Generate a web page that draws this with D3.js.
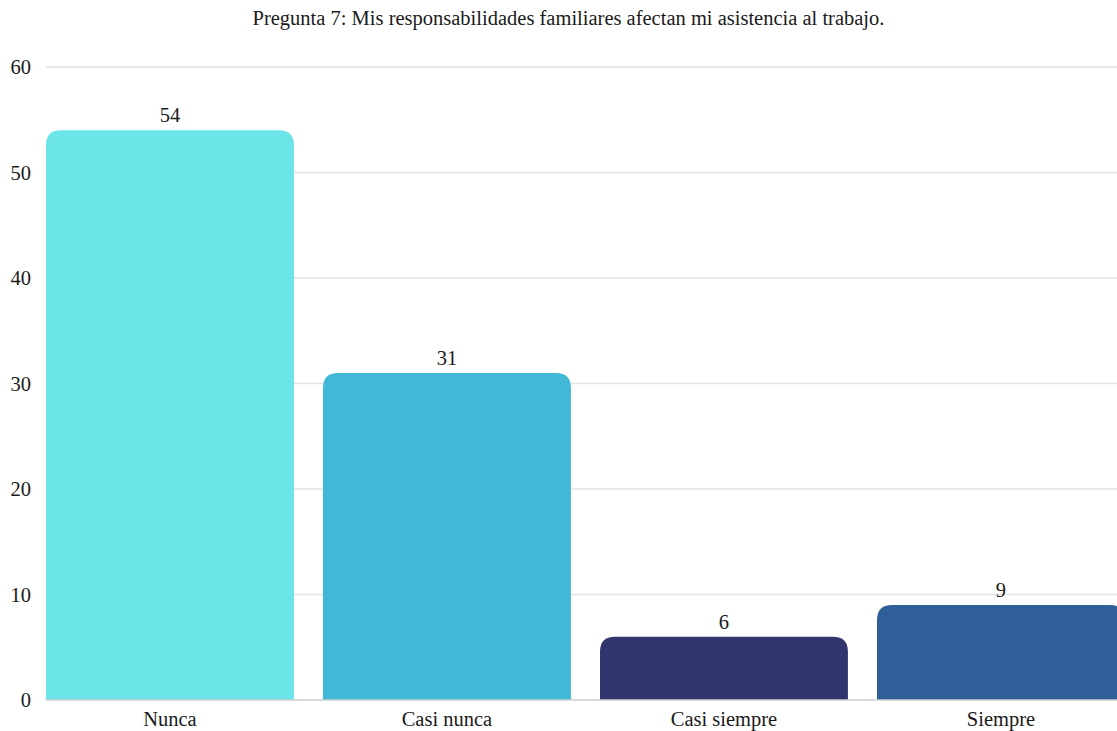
<!DOCTYPE html>
<html>
<head>
<meta charset="utf-8">
<script src="https://cdn.jsdelivr.net/npm/d3@7"></script>
<style>
  html, body { margin: 0; padding: 0; background: #fff; overflow: hidden; }
  svg { display: block; font-family: "Liberation Serif", "Times New Roman", serif; }
</style>
</head>
<body>
<svg id="chart" width="1117" height="731"></svg>
<script>
// Survey answers for question 7
const categories = ["Nunca", "Casi nunca", "Casi siempre", "Siempre"];
const counts = [54, 31, 6, 9];
const barColors = ["#6ce5e8", "#41b8d5", "#31356e", "#2f5f98"];
const yTicks = [0, 10, 20, 30, 40, 50, 60];
const title = "Pregunta 7: Mis responsabilidades familiares afectan mi asistencia al trabajo.";

const FONT = "Liberation Serif, Times New Roman, serif";
const FS = 20.5;

const svg = d3.select("#chart");
const plotLeft = 46, plotTop = 67, plotBottom = 700, step = 277, inner = 0.105;

const x = d3.scaleBand()
  .domain(categories)
  .range([plotLeft, plotLeft + step * (categories.length - inner)])
  .paddingInner(inner)
  .paddingOuter(0);

const y = d3.scaleLinear().domain([0, 60]).range([plotBottom, plotTop]);

// Title
svg.append("text")
  .attr("x", 568.5).attr("y", 25)
  .attr("text-anchor", "middle")
  .attr("font-family", FONT)
  .attr("font-size", FS)
  .attr("fill", "#1a1a1a")
  .text(title);

// Horizontal grid
svg.append("g")
  .selectAll("line")
  .data(yTicks.filter(d => d > 0))
  .join("line")
  .attr("x1", plotLeft).attr("x2", 1117)
  .attr("y1", d => y(d)).attr("y2", d => y(d))
  .attr("stroke", "#e2e2e2").attr("stroke-width", 1.5);

// Y axis labels
const yAxis = d3.axisLeft(y).tickValues(yTicks).tickSize(0).tickPadding(0);
svg.append("g")
  .attr("transform", `translate(31,0)`)
  .call(yAxis)
  .call(g => g.select(".domain").remove())
  .call(g => g.selectAll("text")
    .attr("font-size", FS)
    .attr("font-family", FONT)
    .attr("fill", "#1a1a1a"));

// Bars with rounded top corners
const radius = 15;
function barPath(x0, w, yTop, yBase) {
  const rr = Math.min(radius, (yBase - yTop), w / 2);
  return `M${x0},${yBase}V${yTop + rr}Q${x0},${yTop} ${x0 + rr},${yTop}` +
         `H${x0 + w - rr}Q${x0 + w},${yTop} ${x0 + w},${yTop + rr}V${yBase}Z`;
}

svg.append("g")
  .selectAll("path")
  .data(categories)
  .join("path")
  .attr("d", (c, i) => barPath(x(c), x.bandwidth(), y(counts[i]), y(0)))
  .attr("fill", (c, i) => barColors[i]);

// Baseline
svg.append("line")
  .attr("x1", plotLeft).attr("x2", 1117)
  .attr("y1", y(0)).attr("y2", y(0))
  .attr("stroke", "#cfcfcf").attr("stroke-width", 1.5);

// Value labels
svg.append("g")
  .selectAll("text")
  .data(categories)
  .join("text")
  .attr("x", c => x(c) + x.bandwidth() / 2)
  .attr("y", (c, i) => y(counts[i]) - 8)
  .attr("text-anchor", "middle")
  .attr("font-family", FONT)
  .attr("font-size", FS)
  .attr("fill", "#1a1a1a")
  .text((c, i) => counts[i]);

// Category axis
const xAxis = d3.axisBottom(x).tickSize(0).tickPadding(11);
svg.append("g")
  .attr("transform", `translate(0,${plotBottom})`)
  .call(xAxis)
  .call(g => g.select(".domain").remove())
  .call(g => g.selectAll("text")
    .attr("font-size", FS)
    .attr("font-family", FONT)
    .attr("fill", "#1a1a1a"));
</script>
</body>
</html>
